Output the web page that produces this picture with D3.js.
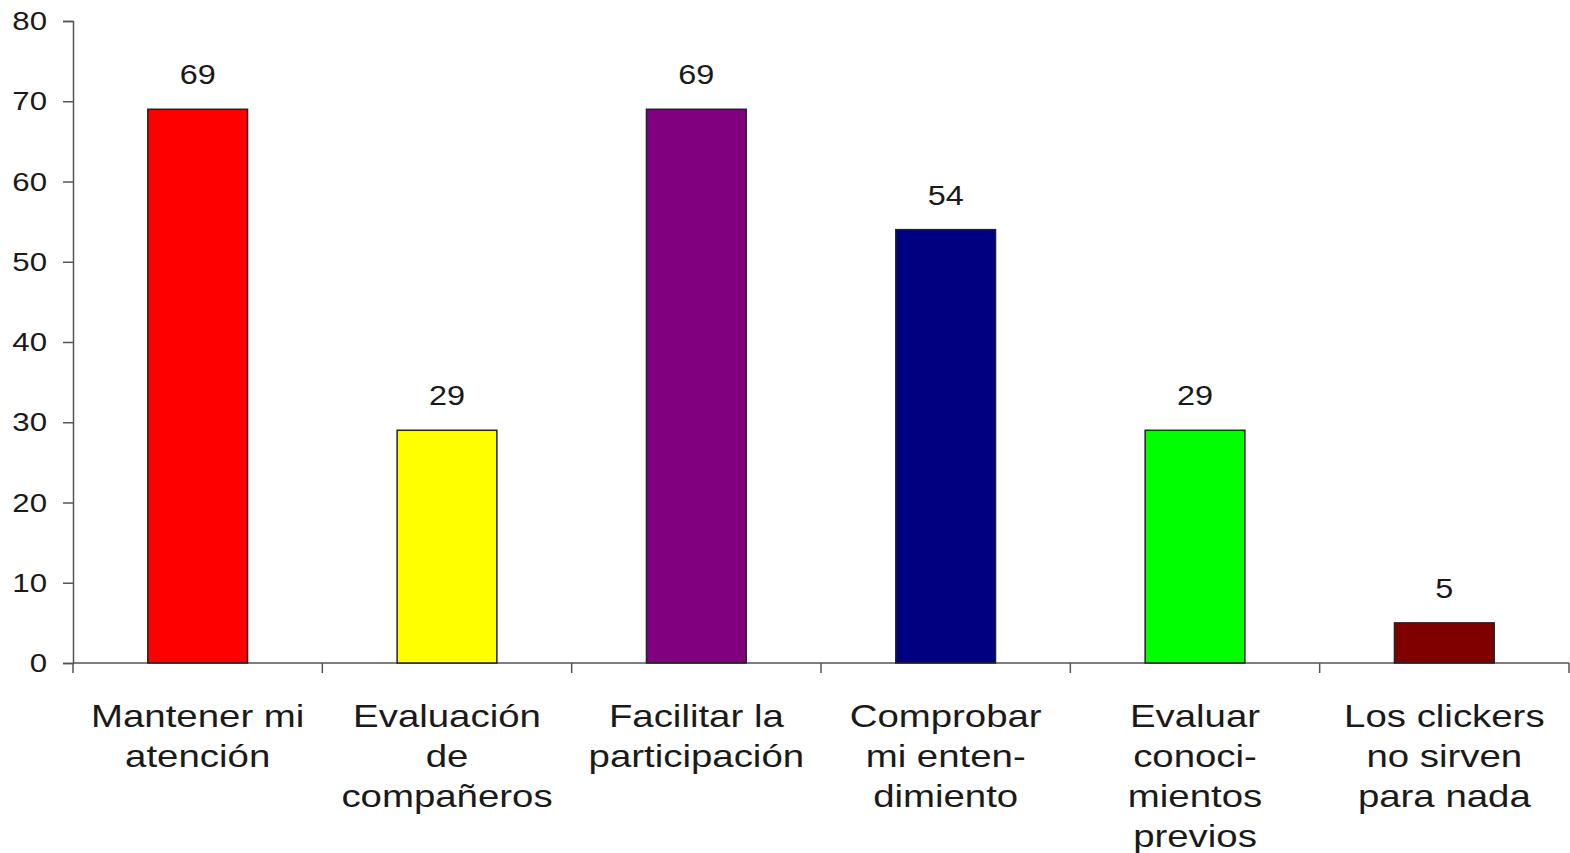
<!DOCTYPE html>
<html>
<head>
<meta charset="utf-8">
<script src="https://cdn.jsdelivr.net/npm/d3@7"></script>
<style>
  body { margin: 0; background: #fff; }
  text { font-family: "Liberation Sans", Arial, sans-serif; fill: #1a1a1a; }
</style>
</head>
<body>
<div id="chart"></div>
<script>
// data
var categories = [
	["Mantener mi", "atención"],
	["Evaluación", "de", "compañeros"],
	["Facilitar la", "participación"],
	["Comprobar", "mi enten-", "dimiento"],
	["Evaluar", "conoci-", "mientos", "previos"],
	["Los clickers", "no sirven", "para nada"]
];
var values = [69, 29, 69, 54, 29, 5];
var colors = ["#ff0000", "#ffff00", "#800080", "#000080", "#00ff00", "#800000"];
var yTicks = [0, 10, 20, 30, 40, 50, 60, 70, 80];

var width = 1570, height = 853;
var margin = { top: 21, right: 1, bottom: 190, left: 73 };
var w = width - margin.left - margin.right,
	h = height - margin.top - margin.bottom;

// text in the source is stretched sideways
var stretch = "scale(1.2,1)";

var svg = d3.select("#chart").append("svg")
		.attr("width", width)
		.attr("height", height)
	.append("g")
		.attr("transform", "translate(" + margin.left + "," + margin.top + ")");

var idx = d3.range(values.length);

var x = d3.scaleBand()
	.domain(idx)
	.range([0, w])
	.paddingInner(0.6)
	.paddingOuter(0.3);

// edges between categories, for the x ticks
var xEdge = d3.scaleLinear().domain([0, values.length]).range([0, w]);

var y = d3.scaleLinear().domain([0, 80]).range([h, 0]);

// y axis
var yAxis = d3.axisLeft(y).tickValues(yTicks).tickSize(10).tickFormat("");
var gy = svg.append("g").call(yAxis);
gy.select(".domain").attr("stroke", "#555").attr("stroke-width", 1.5);
gy.selectAll(".tick line").attr("stroke", "#555").attr("stroke-width", 1.5);

svg.selectAll(".ylab")
	.data(yTicks)
	.enter().append("text")
	.attr("class", "ylab")
	.attr("transform", d => "translate(-26," + y(d) + ")" + stretch)
	.attr("dy", "0.35em")
	.attr("text-anchor", "end")
	.attr("font-size", 26)
	.text(d => d);

// x axis
var gx = svg.append("g").attr("transform", "translate(0," + h + ")");
gx.append("line")
	.attr("x1", 0).attr("x2", w)
	.attr("stroke", "#555").attr("stroke-width", 1.5);
gx.selectAll(".xtick")
	.data(d3.range(values.length + 1))
	.enter().append("line")
	.attr("x1", d => xEdge(d)).attr("x2", d => xEdge(d))
	.attr("y1", 0).attr("y2", 10)
	.attr("stroke", "#555").attr("stroke-width", 1.5);

// bars
svg.selectAll(".bar")
	.data(idx)
	.enter().append("rect")
	.attr("class", "bar")
	.attr("x", d => x(d))
	.attr("y", d => y(values[d]))
	.attr("width", x.bandwidth())
	.attr("height", d => h - y(values[d]))
	.attr("fill", d => colors[d])
	.attr("stroke", "#222")
	.attr("stroke-width", 1.5);

// value labels
svg.selectAll(".val")
	.data(idx)
	.enter().append("text")
	.attr("transform", d => "translate(" + (x(d) + x.bandwidth() / 2) + "," + (y(values[d]) - 25) + ")" + stretch)
	.attr("text-anchor", "middle")
	.attr("font-size", 27)
	.text(d => values[d]);

// category labels
var cat = svg.selectAll(".cat")
	.data(idx)
	.enter().append("text")
	.attr("text-anchor", "middle")
	.attr("font-size", 32)
	.attr("transform", d => "translate(" + (x(d) + x.bandwidth() / 2) + "," + (h + 64) + ")" + stretch);

cat.selectAll("tspan")
	.data(d => categories[d])
	.enter().append("tspan")
	.attr("x", 0)
	.attr("y", (d, i) => i * 40)
	.text(d => d);
</script>
</body>
</html>
